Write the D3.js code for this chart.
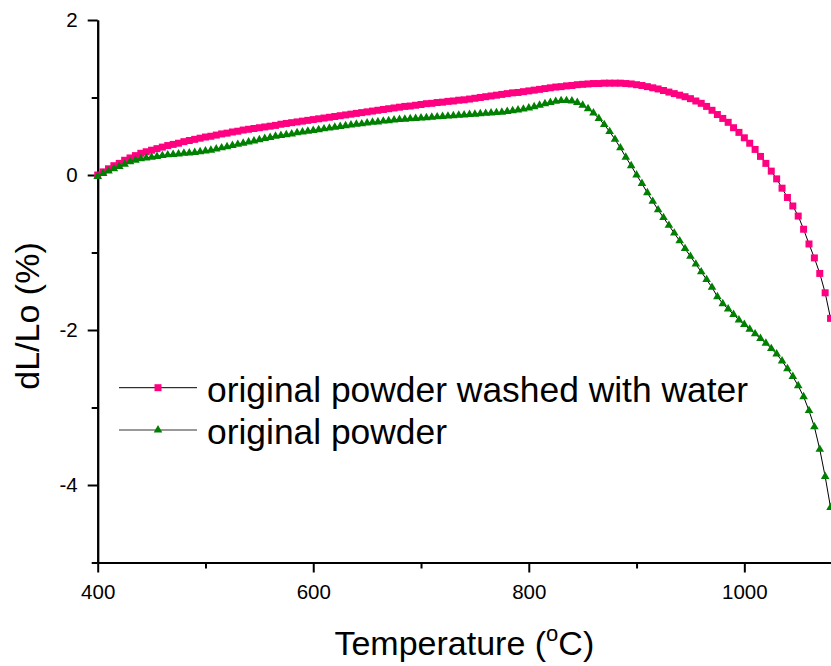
<!DOCTYPE html>
<html lang="en">
<head>
    <meta charset="UTF-8">
    <title>Dilatometry - dL/Lo</title>
    <script src="https://d3js.org/d3.v7.min.js"></script>
    <style>
        body { margin: 0; background: #fff; }
        svg { display: block; font-family: "Liberation Sans", Arial, sans-serif; }
    </style>
</head>
<body>
    <div id="chart"></div>
    <script>
        // temperatures (°C), one reading every 5 °C
        const temps = [
            400, 405, 410, 415, 420, 425, 430, 435, 440, 445, 450, 455, 460, 465, 470, 475, 480, 485, 490, 495,
            500, 505, 510, 515, 520, 525, 530, 535, 540, 545, 550, 555, 560, 565, 570, 575, 580, 585, 590, 595,
            600, 605, 610, 615, 620, 625, 630, 635, 640, 645, 650, 655, 660, 665, 670, 675, 680, 685, 690, 695,
            700, 705, 710, 715, 720, 725, 730, 735, 740, 745, 750, 755, 760, 765, 770, 775, 780, 785, 790, 795,
            800, 805, 810, 815, 820, 825, 830, 835, 840, 845, 850, 855, 860, 865, 870, 875, 880, 885, 890, 895,
            900, 905, 910, 915, 920, 925, 930, 935, 940, 945, 950, 955, 960, 965, 970, 975, 980, 985, 990, 995,
            1000, 1005, 1010, 1015, 1020, 1025, 1030, 1035, 1040, 1045, 1050, 1055, 1060, 1065, 1070, 1075, 1080
        ];

        // dL/Lo (%) - original powder washed with water
        const washed = [
            0.00, 0.04, 0.08, 0.12, 0.15, 0.19, 0.22, 0.25, 0.28, 0.30, 0.32, 0.34, 0.36, 0.38, 0.395, 0.41, 0.43, 0.445, 0.46, 0.475,
            0.49, 0.50, 0.515, 0.53, 0.54, 0.555, 0.565, 0.58, 0.59, 0.60, 0.61, 0.62, 0.63, 0.64, 0.655, 0.665, 0.675, 0.685, 0.695, 0.705,
            0.715, 0.725, 0.735, 0.745, 0.755, 0.765, 0.775, 0.785, 0.795, 0.805, 0.815, 0.825, 0.835, 0.845, 0.855, 0.865, 0.875, 0.885, 0.89, 0.90,
            0.91, 0.92, 0.925, 0.935, 0.94, 0.95, 0.955, 0.965, 0.97, 0.98, 0.99, 1.00, 1.01, 1.02, 1.03, 1.04, 1.05, 1.06, 1.065, 1.075,
            1.085, 1.095, 1.105, 1.115, 1.125, 1.135, 1.14, 1.15, 1.155, 1.165, 1.17, 1.175, 1.18, 1.18, 1.185, 1.185, 1.185, 1.185, 1.18, 1.175,
            1.165, 1.155, 1.14, 1.125, 1.11, 1.09, 1.07, 1.05, 1.03, 1.01, 0.985, 0.955, 0.925, 0.885, 0.835, 0.78, 0.73, 0.68, 0.61, 0.55,
            0.48, 0.41, 0.33, 0.24, 0.15, 0.05, -0.05, -0.17, -0.29, -0.40, -0.53, -0.70, -0.89, -1.07, -1.27, -1.52, -1.85
        ];

        // dL/Lo (%) - original powder
        const original = [
            -0.02, 0.02, 0.05, 0.08, 0.11, 0.14, 0.17, 0.19, 0.21, 0.22, 0.23, 0.24, 0.25, 0.26, 0.265, 0.27, 0.28, 0.285, 0.29, 0.30,
            0.31, 0.32, 0.335, 0.35, 0.365, 0.38, 0.395, 0.41, 0.425, 0.44, 0.455, 0.47, 0.485, 0.50, 0.51, 0.52, 0.53, 0.545, 0.555, 0.565,
            0.575, 0.585, 0.595, 0.605, 0.615, 0.625, 0.635, 0.645, 0.655, 0.66, 0.67, 0.68, 0.685, 0.695, 0.70, 0.71, 0.715, 0.72, 0.725, 0.73,
            0.735, 0.74, 0.745, 0.75, 0.755, 0.76, 0.765, 0.77, 0.775, 0.78, 0.785, 0.79, 0.795, 0.80, 0.805, 0.81, 0.82, 0.83, 0.84, 0.85,
            0.865, 0.88, 0.90, 0.92, 0.935, 0.95, 0.96, 0.96, 0.955, 0.935, 0.90, 0.855, 0.80, 0.73, 0.65, 0.56, 0.46, 0.35, 0.23, 0.12,
            0.00, -0.11, -0.23, -0.34, -0.45, -0.55, -0.65, -0.75, -0.85, -0.95, -1.05, -1.15, -1.25, -1.35, -1.45, -1.57, -1.66, -1.73, -1.80, -1.87,
            -1.93, -1.99, -2.05, -2.11, -2.17, -2.24, -2.31, -2.40, -2.50, -2.60, -2.72, -2.86, -3.04, -3.25, -3.54, -3.89, -4.29
        ];

        const xMajor = [400, 600, 800, 1000];
        const xMinor = [500, 700, 900];
        const yMajor = [2, 0, -2, -4];
        const yMinor = [1, -1, -3, -5];

        const width = 831;
        const height = 666;

        const svg = d3.select("#chart").append("svg")
            .attr("width", width)
            .attr("height", height);

        const x = d3.scaleLinear().domain([400, 1100]).range([97.7, 852.1]);
        const y = d3.scaleLinear().domain([-5, 2]).range([562.5, 20]);

        const pink = "#ff0080";
        const green = "#008000";

        // axes
        const fmt = d => String(d);

        const gx = svg.append("g").attr("transform", `translate(0,${y(-5)})`);
        gx.call(d3.axisBottom(x).tickValues(xMinor).tickSize(6).tickSizeOuter(0).tickFormat(""));
        gx.append("g").call(d3.axisBottom(x).tickValues(xMajor).tickSize(10).tickSizeOuter(0).tickPadding(12).tickFormat(fmt));

        const gy = svg.append("g").attr("transform", `translate(${x(400)},0)`);
        gy.call(d3.axisLeft(y).tickValues(yMinor).tickSize(6).tickSizeOuter(0).tickFormat(""));
        gy.append("g").call(d3.axisLeft(y).tickValues(yMajor).tickSize(10).tickSizeOuter(0).tickPadding(10).tickFormat(fmt));

        svg.selectAll(".domain, .tick line")
            .attr("stroke", "#000")
            .attr("stroke-width", 2);
        svg.selectAll(".tick text")
            .attr("fill", "#000")
            .style("font-size", "20.5px")
            .style("font-family", "\"Liberation Sans\", Arial, sans-serif");

        // axis titles
        const xt = svg.append("text")
            .attr("x", (x(400) + width) / 2)
            .attr("y", 655)
            .attr("text-anchor", "middle")
            .style("font-size", "34px");
        xt.append("tspan").text("Temperature (");
        xt.append("tspan").attr("baseline-shift", "65%").style("font-size", "22px").text("o");
        xt.append("tspan").text("C)");

        svg.append("text")
            .attr("transform", "translate(39,316) rotate(-90)")
            .attr("text-anchor", "middle")
            .style("font-size", "34px")
            .text("dL/Lo (%)");

        // series
        const series = [
            { name: "original powder washed with water", values: washed, color: pink, shape: d3.symbolSquare, size: 49 },
            { name: "original powder", values: original, color: green, shape: d3.symbolTriangle, size: 32 }
        ];

        const line = d3.line()
            .x(d => x(d[0]))
            .y(d => y(d[1]));

        series.forEach(s => {
            const pts = temps.map((t, i) => [t, s.values[i]]);
            svg.append("path")
                .datum(pts)
                .attr("fill", "none")
                .attr("stroke", "#000")
                .attr("stroke-width", 1)
                .attr("d", line);
            svg.append("g")
                .selectAll("path")
                .data(pts)
                .enter()
                .append("path")
                .attr("transform", d => `translate(${x(d[0])},${y(d[1])})`)
                .attr("d", d3.symbol().type(s.shape).size(s.size))
                .attr("fill", s.color);
        });

        // legend
        const legend = svg.append("g");
        series.forEach((s, i) => {
            const ly = 387.7 + i * 42.3;
            legend.append("line")
                .attr("x1", 119).attr("x2", 197)
                .attr("y1", ly).attr("y2", ly)
                .attr("stroke", i === 0 ? "#000" : "#777")
                .attr("stroke-width", i === 0 ? 1 : 1.5);
            legend.append("path")
                .attr("transform", `translate(158,${ly})`)
                .attr("d", d3.symbol().type(s.shape).size(s.size))
                .attr("fill", s.color);
            legend.append("text")
                .attr("x", 207)
                .attr("y", ly + 14)
                .style("font-size", "35.4px")
                .text(s.name);
        });
    </script>
</body>
</html>
